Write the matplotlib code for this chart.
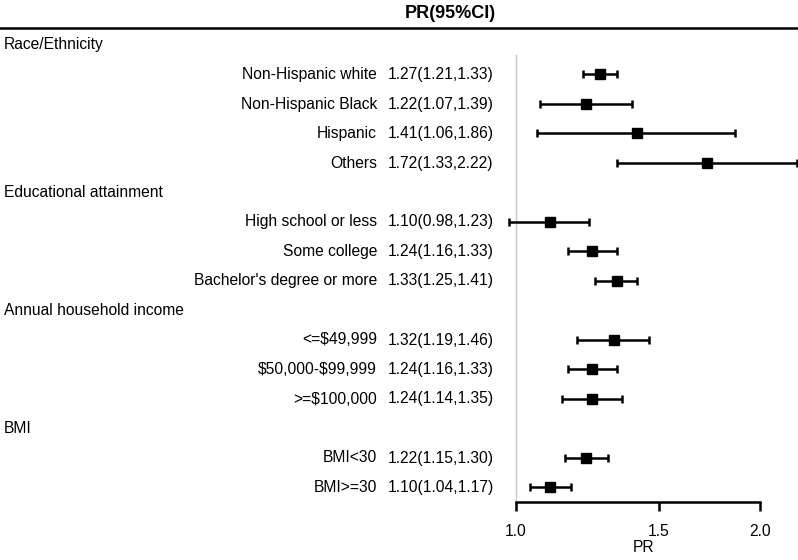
import numpy as np
import matplotlib.pyplot as plt

plt.rcParams['font.family'] = ['Liberation Sans', 'DejaVu Sans']
plt.rcParams['text.parse_math'] = False

# rows from top to bottom; group headers have no estimate
labels = ['Race/Ethnicity', 'Non-Hispanic white', 'Non-Hispanic Black', 'Hispanic', 'Others',
          'Educational attainment', 'High school or less', 'Some college', "Bachelor's degree or more",
          'Annual household income', '<=$49,999', '$50,000-$99,999', '>=$100,000',
          'BMI', 'BMI<30', 'BMI>=30']
is_group = [True, False, False, False, False,
            True, False, False, False,
            True, False, False, False,
            True, False, False]
pr = [None, 1.27, 1.22, 1.41, 1.72, None, 1.10, 1.24, 1.33, None, 1.32, 1.24, 1.24, None, 1.22, 1.10]
lo = [None, 1.21, 1.07, 1.06, 1.33, None, 0.98, 1.16, 1.25, None, 1.19, 1.16, 1.14, None, 1.15, 1.04]
hi = [None, 1.33, 1.39, 1.86, 2.22, None, 1.23, 1.33, 1.41, None, 1.46, 1.33, 1.35, None, 1.30, 1.17]
ticks = [1.0, 1.5, 2.0]

W, H = 798, 560
fs = 11.25
fig = plt.figure(figsize=(W / 100, H / 100), dpi=100)

# forest axes: left edge at px 490, right edge at figure edge, top 30, bottom 502
ax = fig.add_axes([490 / W, 1 - 502 / H, (W - 490) / W, (502 - 30) / H])
ax.set_xscale('log')
ax.set_xlim(0.929, 2.225)
ax.set_ylim(15.5, -0.5)

ax.plot([1, 1], [0.35, 15.5], color='#c8c8c8', lw=1, zorder=0)

for i in range(len(labels)):
    ypos = 1 - (45 + 29.5 * i) / H
    if is_group[i]:
        fig.text(4 / W, ypos, labels[i], fontsize=fs, ha='left', va='center')
        continue
    ax.errorbar(pr[i], i, xerr=[[pr[i] - lo[i]], [hi[i] - pr[i]]], fmt='s', color='black',
                ms=7, capsize=3, elinewidth=1.8, capthick=1.8, clip_on=False)
    fig.text(377 / W, ypos, labels[i], fontsize=fs, ha='right', va='center')
    fig.text(388 / W, ypos, '%.2f(%.2f,%.2f)' % (pr[i], lo[i], hi[i]),
             fontsize=fs, ha='left', va='center')

for s in ['top', 'right', 'left']:
    ax.spines[s].set_visible(False)
ax.spines['bottom'].set_bounds(1.0, 2.0)
ax.spines['bottom'].set_linewidth(1.8)
ax.set_yticks([])
ax.set_xticks(ticks)
ax.set_xticks([], minor=True)
ax.set_xticklabels(['%.1f' % t for t in ticks], fontsize=fs)
ax.tick_params(axis='x', length=6.5, width=1.8, pad=9)
ax.set_xlabel('PR', fontsize=fs, labelpad=1)

# header
fig.text(450 / W, 1 - 13 / H, 'PR(95%CI)', fontsize=13, fontweight='bold', ha='center', va='center')
fig.add_artist(plt.Line2D([0, 1], [1 - 28 / H, 1 - 28 / H], color='black', lw=1.8))

fig.savefig('out.png', dpi=100)
